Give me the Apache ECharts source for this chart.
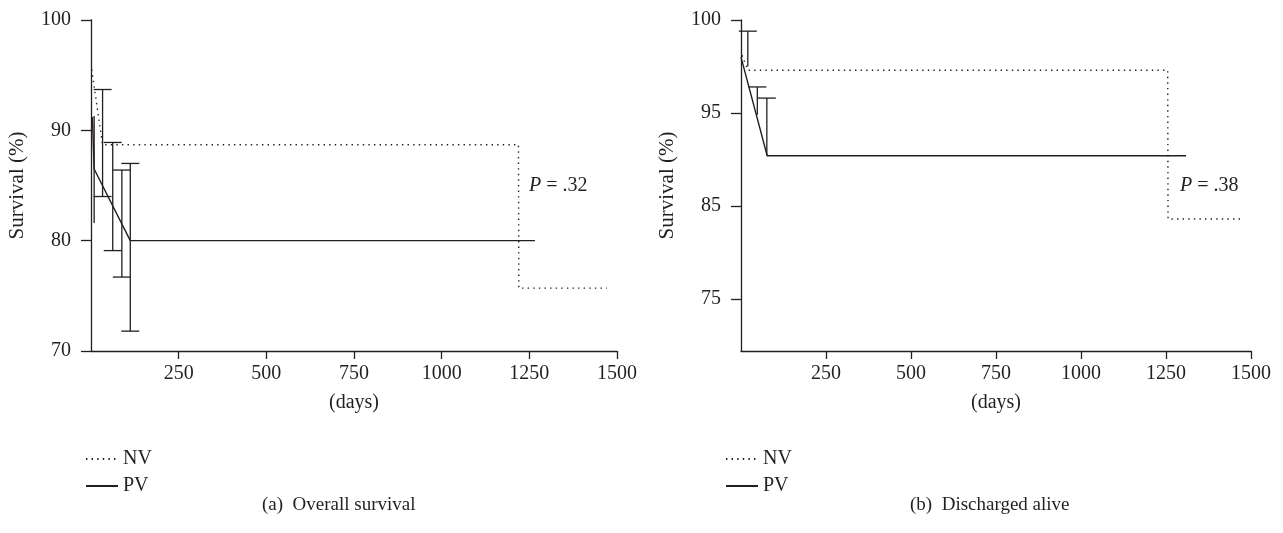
<!DOCTYPE html>
<html>
<head>
<meta charset="utf-8">
<script src="https://cdn.jsdelivr.net/npm/echarts@6/dist/echarts.min.js"></script>
<style>
  html, body { margin: 0; padding: 0; background: #fff; }
  #chart { width: 1283px; height: 533px; }
</style>
</head>
<body>
<div id="chart"></div>
<script>
// x axis ticks (days)
const dayTicks = [250, 500, 750, 1000, 1250, 1500];

// (a) Overall survival
const nvDaysA = [2, 33, 1219, 1220, 1471];
const nvSurvA = [95.5, 88.7, 88.7, 75.7, 75.7];
const pvDaysA = [4, 9, 112, 1266];
const pvSurvA = [91.2, 86.5, 80.0, 80.0];
const errDaysA = [9, 33, 62, 88, 112];
const errLowA = [81.6, 84.0, 79.1, 76.7, 71.8];
const errHighA = [91.3, 93.7, 88.9, 86.4, 87.0];
const capTopA = [false, true, true, true, true];
const capBottomA = [false, true, true, true, true];
const survTicksA = [70, 80, 90, 100];

// (b) Discharged alive
const nvDaysB = [3, 20, 1255, 1256, 1477];
const nvSurvB = [98.1, 97.3, 97.3, 83.6, 83.6];
const pvDaysB = [0, 77, 1309];
const pvSurvB = [98.0, 90.4, 90.4];
const errDaysB = [20, 48, 76];
const errLowB = [97.5, 94.8, 90.4];
const errHighB = [99.4, 96.4, 95.8];
const capTopB = [true, true, true];
const capBottomB = [false, false, false];
const survTicksB = [75, 85, 95, 100];

// panel (b) has 100, 95, 85, 75 equally spaced -> map onto an even axis
const posB = v => (v >= 95 ? v : 95 - (95 - v) / 2);
const survTickPosB = survTicksB.map(posB);

const FONT = '"Liberation Serif", "DejaVu Serif", serif';
const INK = '#231f20';

const chart = echarts.init(document.getElementById('chart'));

const pairs = (xs, ys, f) => xs.map((x, i) => [x, f ? f(ys[i]) : ys[i]]);

// error bars with optional caps
const errRender = (params, api) => {
  const x = api.value(0);
  const lo = api.coord([x, api.value(1)]);
  const hi = api.coord([x, api.value(2)]);
  const w = 9;
  const st = { stroke: INK, lineWidth: 1.3 };
  const kids = [{ type: 'line', shape: { x1: hi[0], y1: hi[1], x2: lo[0], y2: lo[1] }, style: st }];
  if (api.value(3)) kids.push({ type: 'line', shape: { x1: hi[0] - w, y1: hi[1], x2: hi[0] + w, y2: hi[1] }, style: st });
  if (api.value(4)) kids.push({ type: 'line', shape: { x1: lo[0] - w, y1: lo[1], x2: lo[0] + w, y2: lo[1] }, style: st });
  return { type: 'group', children: kids };
};

const xAxisBase = (gridIndex) => ({
  type: 'value',
  gridIndex,
  min: 0,
  max: 1500,
  interval: 250,
  name: '(days)',
  nameLocation: 'middle',
  nameGap: 42,
  nameTextStyle: { fontFamily: FONT, fontSize: 20, color: INK },
  axisLine: { lineStyle: { color: INK, width: 1.3 } },
  axisTick: { inside: false, length: 8, customValues: dayTicks, lineStyle: { color: INK, width: 1.3 } },
  axisLabel: { customValues: dayTicks, margin: 13, fontFamily: FONT, fontSize: 20, color: INK,
    formatter: v => String(v) },
  splitLine: { show: false }
});

const yAxisBase = (gridIndex) => ({
  type: 'value',
  gridIndex,
  name: 'Survival (%)',
  nameLocation: 'middle',
  nameGap: 63,
  nameTextStyle: { fontFamily: FONT, fontSize: 21, color: INK },
  axisLine: { show: true, lineStyle: { color: INK, width: 1.3 } },
  axisTick: { show: true, length: 10, lineStyle: { color: INK, width: 1.3 } },
  axisLabel: { margin: 20, fontFamily: FONT, fontSize: 20, color: INK },
  splitLine: { show: false }
});

const yA = yAxisBase(0);
yA.min = 70; yA.max = 100; yA.interval = 10;

const yB = yAxisBase(1);
yB.min = posB(69.4); yB.max = 100;
yB.axisTick.customValues = survTickPosB;
yB.axisLabel.customValues = survTickPosB;
yB.axisLabel.formatter = v => {
  const i = survTickPosB.findIndex(p => Math.abs(p - v) < 1e-6);
  return i < 0 ? '' : String(survTicksB[i]);
};

const dotted = { color: INK, width: 1.4, type: [1.4, 4.2] };
const solid = { color: INK, width: 1.4, type: 'solid' };

const legendBase = (left) => ({
  orient: 'vertical',
  left,
  top: 444,
  itemWidth: 32,
  itemHeight: 14,
  itemGap: 7,
  selectedMode: false,
  data: ['NV', 'PV'],
  itemStyle: { opacity: 0 },
  textStyle: { fontFamily: FONT, fontSize: 20, color: INK }
});

const pStyle = txt => ({
  text: '{i|P} = ' + txt,
  rich: { i: { fontStyle: 'italic', fontFamily: FONT, fontSize: 20 } },
  fontFamily: FONT, fontSize: 20, fill: INK
});

chart.setOption({
  animation: false,
  backgroundColor: '#fff',
  grid: [
    { left: 91, top: 20, width: 526, height: 331 },
    { left: 741, top: 20, width: 510, height: 331 }
  ],
  xAxis: [xAxisBase(0), xAxisBase(1)],
  yAxis: [yA, yB],
  legend: [legendBase(80), legendBase(720)],
  series: [
    { name: 'NV', type: 'line', xAxisIndex: 0, yAxisIndex: 0, symbol: 'none', lineStyle: dotted, itemStyle: { color: INK },
      data: pairs(nvDaysA, nvSurvA) },
    { name: 'PV', type: 'line', xAxisIndex: 0, yAxisIndex: 0, symbol: 'none', lineStyle: solid, itemStyle: { color: INK },
      data: pairs(pvDaysA, pvSurvA) },
    { type: 'custom', xAxisIndex: 0, yAxisIndex: 0, renderItem: errRender, encode: { x: 0, y: [1, 2] },
      data: errDaysA.map((d, i) => [d, errLowA[i], errHighA[i], capTopA[i] ? 1 : 0, capBottomA[i] ? 1 : 0]) },
    { name: 'NV', type: 'line', xAxisIndex: 1, yAxisIndex: 1, symbol: 'none', lineStyle: dotted, itemStyle: { color: INK },
      data: pairs(nvDaysB, nvSurvB, posB) },
    { name: 'PV', type: 'line', xAxisIndex: 1, yAxisIndex: 1, symbol: 'none', lineStyle: solid, itemStyle: { color: INK },
      data: pairs(pvDaysB, pvSurvB, posB) },
    { type: 'custom', xAxisIndex: 1, yAxisIndex: 1, renderItem: errRender, encode: { x: 0, y: [1, 2] },
      data: errDaysB.map((d, i) => [d, posB(errLowB[i]), posB(errHighB[i]), capTopB[i] ? 1 : 0, capBottomB[i] ? 1 : 0]) }
  ],
  graphic: [
    { type: 'text', left: 529, top: 176, style: pStyle('.32') },
    { type: 'text', left: 1180, top: 176, style: pStyle('.38') },
    { type: 'text', left: 262, top: 496,
      style: { text: '(a)  Overall survival', fontFamily: FONT, fontSize: 19, fill: INK } },
    { type: 'text', left: 910, top: 496,
      style: { text: '(b)  Discharged alive', fontFamily: FONT, fontSize: 19, fill: INK } }
  ]
});
</script>
</body>
</html>
